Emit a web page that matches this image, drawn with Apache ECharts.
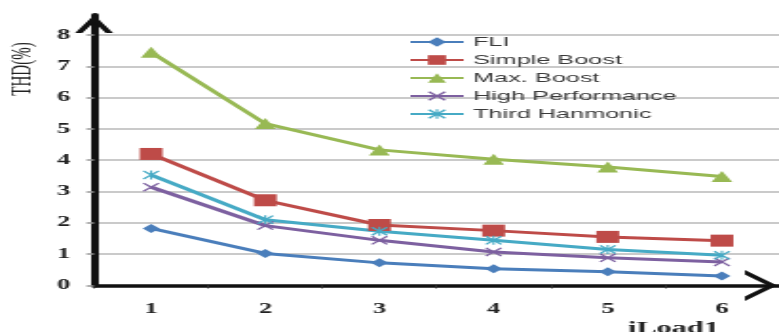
<!DOCTYPE html>
<html>
<head>
<meta charset="utf-8">
<script src="https://cdn.jsdelivr.net/npm/echarts@6/dist/echarts.min.js"></script>
<style>
  html, body { margin: 0; padding: 0; background: #fff; overflow: hidden; }
  #wrap { width: 779px; height: 332px; overflow: hidden; }
  /* the plot is laid out narrow and widened horizontally */
  #chart { width: 410px; height: 332px; transform: scaleX(1.9); transform-origin: 0 0; }
</style>
</head>
<body>
<div id="wrap"><div id="chart"></div></div>
<script>
// Load index on the x axis
const categories = ['1', '2', '3', '4', '5', '6'];

// THD (%) for each modulation method
const fli             = [1.82, 1.02, 0.72, 0.53, 0.44, 0.30];
const simpleBoost     = [4.20, 2.72, 1.93, 1.75, 1.55, 1.43];
const maxBoost        = [7.45, 5.17, 4.33, 4.03, 3.78, 3.48];
const highPerformance = [3.14, 1.91, 1.44, 1.07, 0.88, 0.75];
const thirdHarmonic   = [3.53, 2.10, 1.73, 1.44, 1.15, 0.96];

const seriesNames = ['FLI', 'Simple Boost', 'Max. Boost', 'High Performance', 'Third Hanmonic'];
const yTicks = [0, 1, 2, 3, 4, 5, 6, 7, 8];

const colors = ['#4A7EBB', '#BE4B48', '#98B954', '#7D60A0', '#46AAC5'];

const crossMark = 'path://M0,1 L1,0 L5,4 L9,0 L10,1 L6,5 L10,9 L9,10 L5,6 L1,10 L0,9 L4,5 Z';
const starMark = 'path://M0,1 L1,0 L5,4 L9,0 L10,1 L6,5 L10,9 L9,10 L5,6 L1,10 L0,9 L4,5 Z M4.4,0 L5.6,0 L5.6,10 L4.4,10 Z';

// open chevron arrow heads for the axes
const arrowUp = 'path://M0,18 L10,0 L20,18 L16.2,18 L10,7.2 L3.8,18 Z';
const arrowSide = 'path://M0,17 L15.5,0 L31,17 L26.5,17 L15.5,5 L4.5,17 Z';

const chart = echarts.init(document.getElementById('chart'));

function line(name, data, color, symbol, size) {
  return {
    name: name,
    type: 'line',
    data: data,
    symbol: symbol,
    symbolSize: size,
    showSymbol: true,
    color: color,
    lineStyle: { width: 3, color: color },
    itemStyle: { color: color },
    z: 3
  };
}

chart.setOption({
  animation: false,
  backgroundColor: '#ffffff',
  grid: { left: 49.5, right: -2, top: 15, bottom: 46.6, containLabel: false },
  legend: {
    orient: 'vertical',
    left: 215,
    top: 35.5,
    padding: 0,
    itemWidth: 28,
    itemHeight: 12,
    itemGap: 5,
    data: seriesNames,
    lineStyle: { width: 2 },
    textStyle: { fontFamily: 'Liberation Sans', fontSize: 13.3, lineHeight: 12, color: '#3a3a3a' }
  },
  xAxis: {
    type: 'category',
    data: categories,
    boundaryGap: true,
    axisLine: {
      show: true,
      lineStyle: { color: '#111', width: 3.5 },
      symbol: ['none', arrowSide],
      symbolSize: [31, 17],
      symbolOffset: [0, -9.5]
    },
    axisTick: { show: true, length: 3, lineStyle: { color: '#333', width: 1 } },
    axisLabel: {
      margin: 17,
      fontFamily: 'Liberation Serif',
      fontWeight: 'bold',
      fontSize: 14,
      color: '#222'
    },
    splitLine: { show: false }
  },
  yAxis: {
    type: 'value',
    min: 0,
    max: 8.64,
    interval: 1,
    axisLine: {
      show: true,
      lineStyle: { color: '#111', width: 4 },
      symbol: ['none', arrowUp],
      symbolSize: [20, 18],
      symbolOffset: [0, -9]
    },
    axisTick: { show: true, length: 4, lineStyle: { color: '#999', width: 1.5 } },
    axisLabel: {
      margin: 12.5,
      showMaxLabel: false,
      fontFamily: 'Liberation Serif',
      fontWeight: 'bold',
      fontSize: 14,
      color: '#222',
      formatter: function (v) { return yTicks.indexOf(v) >= 0 ? String(v) : ''; }
    },
    splitLine: { show: true, showMaxLine: false, lineStyle: { color: '#b8b8b8', width: 1.5 } }
  },
  graphic: [
    {
      type: 'text',
      x: 12,
      y: 69,
      rotation: Math.PI / 2,
      style: {
        text: 'THD(%)',
        fontFamily: 'Liberation Serif',
        fontSize: 15,
        fill: '#222',
        textAlign: 'center',
        textVerticalAlign: 'middle'
      }
    },
    {
      type: 'text',
      x: 354.5,
      y: 321,
      style: {
        text: 'iLoad1',
        fontFamily: 'Liberation Serif',
        fontWeight: 'bold',
        fontSize: 16,
        fill: '#222',
        textAlign: 'center',
        textVerticalAlign: 'top'
      }
    }
  ],
  series: [
    line(seriesNames[0], fli, colors[0], 'diamond', [9, 9]),
    line(seriesNames[1], simpleBoost, colors[1], 'rect', 12),
    line(seriesNames[2], maxBoost, colors[2], 'triangle', 11),
    line(seriesNames[3], highPerformance, colors[3], crossMark, 9),
    line(seriesNames[4], thirdHarmonic, colors[4], starMark, 9)
  ]
});
</script>
</body>
</html>
